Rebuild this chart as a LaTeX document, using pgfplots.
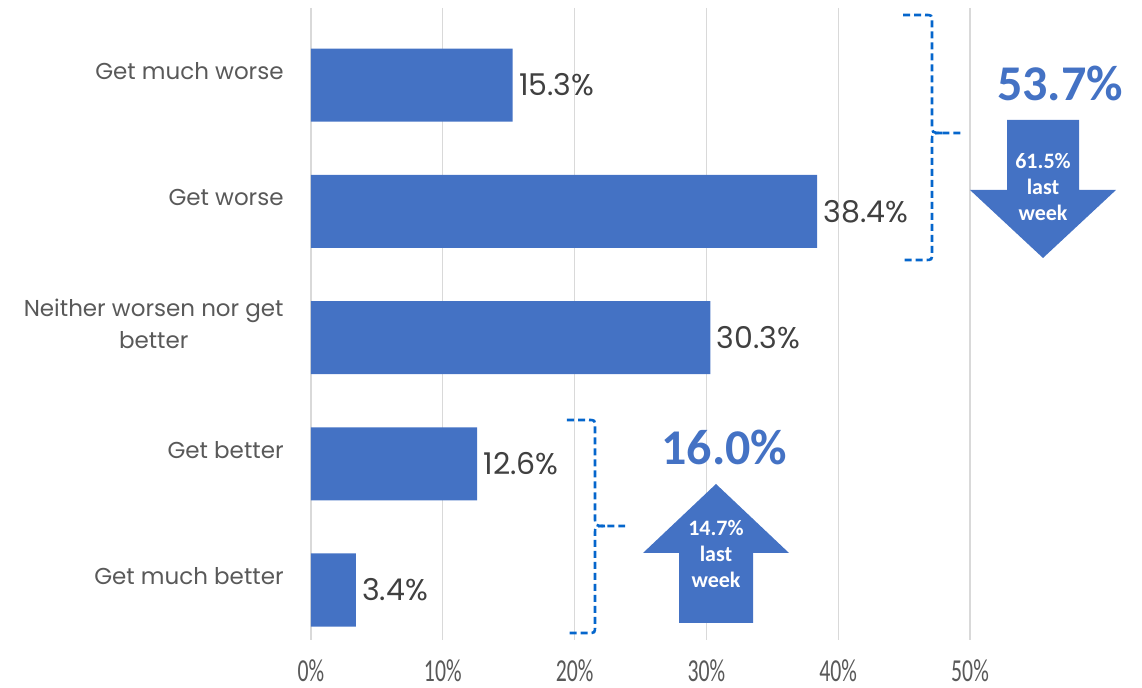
\documentclass[border=0pt]{standalone}
\usepackage{pgfplots}
\pgfplotsset{compat=1.18}
\usepackage{fontspec}
\setmainfont{Poppins}
\newfontfamily\calib{Carlito}
\newfontfamily\tickf[FakeStretch=0.68]{Carlito}
\usetikzlibrary{calc}
\definecolor{barblue}{HTML}{4472C4}
\definecolor{bracecol}{HTML}{0566CC}
\definecolor{catgray}{HTML}{595959}
\definecolor{valgray}{HTML}{404040}
\definecolor{gridgray}{HTML}{D9D9D9}
\begin{document}
\begin{tikzpicture}
\begin{axis}[name=ax, scale only axis, width=415.5pt, height=316pt,
  xmin=0, xmax=63.05, ymin=-0.61, ymax=4.396, y dir=reverse,
  clip=false,
  axis line style={draw=none}, major tick length=0pt,
  xmajorgrids, grid style={gridgray, line width=0.6pt},
  xtick={0,10,20,30,40,50},
  xticklabels={0\%,10\%,20\%,30\%,40\%,50\%},
  xticklabel style={font=\tickf\fontsize{16}{16}\selectfont, text=catgray, anchor=north, inner sep=0pt, yshift=-9.5pt},
  ytick={0,1,2,3,4},
  yticklabels={Get much worse, Get worse, {Neither worsen nor get\\better}, Get better, Get much better},
  yticklabel style={font=\fontsize{11.5}{16}\selectfont, text=catgray, align=center, anchor=east, inner sep=0pt, xshift=-13.5pt, yshift=7pt},
]
\addplot[xbar, fill=barblue, draw=none, bar width=36.5pt,
  nodes near coords={\pgfmathprintnumber[assume math mode=true, fixed, fixed zerofill, precision=1]{\pgfplotspointmeta}\%},
  nodes near coords align=horizontal,
  every node near coord/.append style={font=\fontsize{15}{17}\selectfont, text=valgray, anchor=west, inner sep=0pt, xshift=3pt}]
  coordinates {(15.3,0) (38.4,1) (30.3,2) (12.6,3) (3.4,4)};
\end{axis}
\begin{scope}[shift={($(ax.north west)+(-155.5pt,4pt)$)}, x=0.5pt, y=-0.5pt]
  % down arrow
  \fill[barblue] (1007,120) -- (1079,120) -- (1079,190) -- (1116,190) -- (1043,258) -- (970,190) -- (1007,190) -- cycle;
  \node[text=white, font=\calib\bfseries\fontsize{11}{12.8}\selectfont, align=center] at (1043,187) {61.5\%\\last\\week};
  \node[text=barblue, font=\calib\bfseries\fontsize{25}{25}\selectfont] at (1060,83) {53.7\%};
  % up arrow
  \fill[barblue] (679,623) -- (753,623) -- (753,553) -- (789,553) -- (716,484) -- (643,553) -- (679,553) -- cycle;
  \node[text=white, font=\calib\bfseries\fontsize{11}{12.8}\selectfont, align=center] at (716,554) {14.7\%\\last\\week};
  \node[text=barblue, font=\calib\bfseries\fontsize{25}{25}\selectfont] at (724.5,447) {16.0\%};
  % braces
  \begin{scope}[bracecol, line width=1.3pt, dash pattern=on 3.5pt off 2pt]
    \draw (903,15) -- (925,15) .. controls (932,15) .. (932,22) -- (932,124) .. controls (932,133) .. (942,133) -- (962,133);
    \draw (942,133) .. controls (932,133) .. (932,142) -- (932,253) .. controls (932,260) .. (925,260) -- (903,260);
    \draw (567,420) -- (588,420) .. controls (595,420) .. (595,427) -- (595,517) .. controls (595,526) .. (605,526) -- (625,526);
    \draw (605,526) .. controls (595,526) .. (595,535) -- (595,626) .. controls (595,633) .. (588,633) -- (567,633);
  \end{scope}
\end{scope}
\pgfresetboundingbox
\path ($(ax.north west)+(-155.5pt,4pt)$) rectangle ++(571pt,-344pt);
\end{tikzpicture}
\end{document}
